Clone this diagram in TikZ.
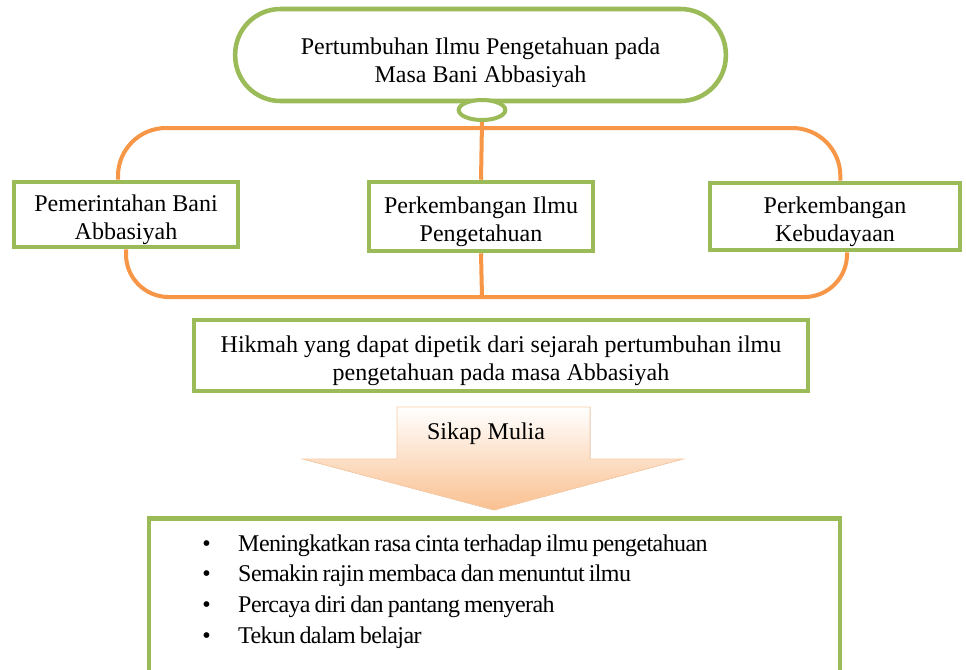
\documentclass[tikz,border=0pt]{standalone}
\usepackage{fontspec}
\setmainfont{Liberation Serif}
\newfontfamily\tightfont{Liberation Serif}[WordSpace=0.75,LetterSpace=-2.5]
\usetikzlibrary{shapes.geometric}
\pgfdeclarelayer{background}
\pgfsetlayers{background,main}
\definecolor{leafgreen}{HTML}{9BBB59}
\definecolor{peel}{HTML}{F79646}
\definecolor{peach}{HTML}{FAC090}
\newcommand\topgap{\rule{0pt}{20.5pt}}

\begin{document}
\begin{tikzpicture}[
    x=0.75pt,y=-0.75pt,
    font=\fontsize{18}{21}\selectfont,
    box/.style={draw=leafgreen,line width=3.4pt,fill=white,align=center,inner sep=0pt},
    titlebox/.style={box,rounded corners=34pt},
    knot/.style={ellipse,draw=leafgreen,line width=3pt,fill=white,inner sep=0pt},
    bracket/.style={draw=peel,line width=3pt},
    item/.style={anchor=base west,inner sep=0pt,font=\fontsize{18}{21}\tightfont},
    sikap/.style={top color=white,bottom color=peach,draw=peach!80,line width=0.6pt}
]
\useasboundingbox (0,0) rectangle (966,669);

% title with its knot
\node[titlebox,minimum width=368pt,minimum height=69pt] (title) at (480.5,55)
  {\rule{0pt}{24pt}Pertumbuhan Ilmu Pengetahuan pada\\Masa Bani Abbasiyah};
\node[knot,minimum width=35pt,minimum height=15pt] (knot) at (482,110) {};
\coordinate (hub) at (482,128);
\coordinate (foot) at (482,297);

% three branches
\node[box,minimum width=168pt,minimum height=48.75pt] (lbox) at (126,214.5)
  {\topgap Pemerintahan Bani\\Abbasiyah};
\node[box,minimum width=168pt,minimum height=51.75pt] (mbox) at (481,216.5)
  {\topgap Perkembangan Ilmu\\Pengetahuan};
\node[box,minimum width=187.5pt,minimum height=50.25pt] (rbox) at (835,216.5)
  {\topgap Perkembangan\\Kebudayaan};

\begin{pgfonlayer}{background}
  \path[fill=white] (0,0) rectangle (966,669);
  \draw[bracket,rounded corners=36pt] ([xshift=-6pt]lbox.north) -- ([xshift=-6pt]lbox.north |- hub)
    -- ([xshift=4pt]rbox.north |- hub) -- ([xshift=4pt]rbox.north);
  \draw[bracket,rounded corners=32pt] (lbox.south) -- (lbox.south |- foot)
    -- ([xshift=9pt]rbox.south |- foot) -- ([xshift=9pt]rbox.south);
  \draw[bracket] (knot.south) -- (mbox.north);
  \draw[bracket] (mbox.south) -- (foot);
\end{pgfonlayer}

% hikmah
\node[box,minimum width=460.5pt,minimum height=53.25pt] (hikmah) at (501,355.5)
  {\topgap Hikmah yang dapat dipetik dari sejarah pertumbuhan ilmu\\pengetahuan pada masa Abbasiyah};

% arrow
\filldraw[sikap] (397,407) -- (590,407) -- (590,459) -- (683,459) -- (494,510)
  -- (303,459) -- (397,459) -- cycle;
\node (sikaplabel) at (486,434) {Sikap Mulia};

% sikap mulia list
\node[box,minimum width=518pt,minimum height=128pt] (sikapbox) at (494.5,604) {};
\foreach \t [count=\i] in {Meningkatkan rasa cinta terhadap ilmu pengetahuan,
    Semakin rajin membaca dan menuntut ilmu,
    Percaya diri dan pantang menyerah,
    Tekun dalam belajar}
  \node[item] (item\i) at (202,551+30.7*\i-30.7) {\makebox[27pt][l]{\textbullet}\t};
\end{tikzpicture}
\end{document}
